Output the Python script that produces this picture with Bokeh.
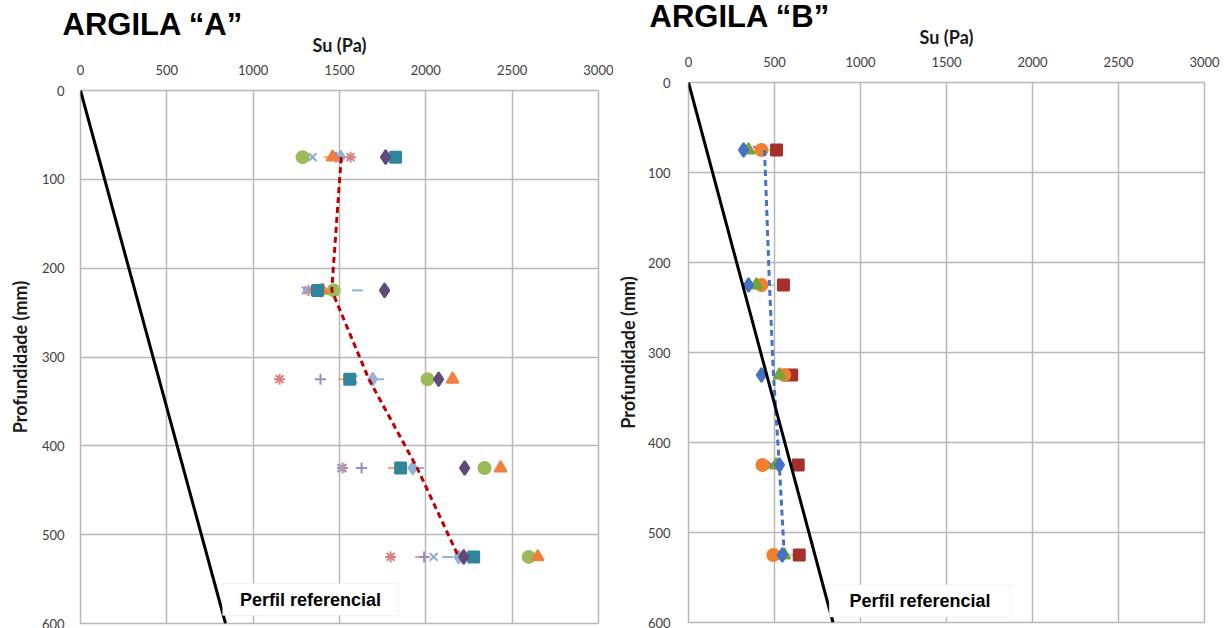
from bokeh.plotting import figure
from bokeh.layouts import row, column
from bokeh.models import Range1d, Label, BoxAnnotation, FixedTicker
from bokeh.embed import file_html
from bokeh.resources import INLINE

# ---------------- data ----------------
depths = [75, 225, 325, 425, 525]
x_ticks = [0, 500, 1000, 1500, 2000, 2500, 3000]
y_ticks = [0, 100, 200, 300, 400, 500, 600]
ref_depth = [0, 600]
ref_su = [0, 840]

# ARGILA "A"  (Su in Pa at each depth)
a_diamond_dark = [1767, 1761, 2074, 2225, 2219]
a_square = [1825, 1373, 1559, 1854, 2277]
a_triangle = [1460, 1402, 2155, 2433, 2648]
a_x = [1344, 1304, 1580, 1510, 2045]
a_asterisk = [1564, 1320, 1153, 1518, 1796]
a_circle = [1286, 1466, 2010, 2340, 2596]
a_plus = [1480, 1340, 1390, 1628, 1990]
a_dash_orange = [1440, 1437, 1524, 1813, 1970]
a_dash_blue = [1500, 1605, 1727, 1958, 2126]
a_diamond_light = [1506, 1390, 1692, 1924, 2190]
a_mean = [1510, 1455, 1670, 1950, 2190]

# ARGILA "B"
b_diamond = [320, 349, 424, 529, 545]
b_square = [512, 552, 600, 638, 644]
b_triangle = [349, 395, 529, 510, 557]
b_x = [400, 410, 540, 481, 530]
b_asterisk = [430, 430, 590, 520, 540]
b_circle = [424, 424, 557, 430, 493]
b_dash = [471, 465, 580, 630, 620]
b_mean = [442, 471, 494, 528, 557]

GRID = "#b8b8b8"
TICK_FONT = "Lato"


def make_fig(title, width, left, right, top, bottom, tick_standoff_y, label_standoff_y,
             title_offset, title_standoff):
    p = figure(width=width, height=628, x_range=Range1d(0, 3000), y_range=Range1d(600, 0),
               x_axis_location="above", output_backend="svg", toolbar_location=None,
               title=title, title_location="above",
               min_border_left=left, min_border_right=right,
               min_border_top=top, min_border_bottom=bottom)
    p.title.align = "left"
    p.title.offset = title_offset
    p.title.text_font = "Liberation Sans"
    p.title.text_font_style = "bold"
    p.title.text_font_size = "31px"
    p.title.text_color = "black"
    try:
        p.title.standoff = title_standoff
    except Exception:
        p.title.standoff = 0
    p.background_fill_color = "white"
    p.border_fill_color = "white"
    p.outline_line_color = GRID
    p.outline_line_width = 1.5
    p.xaxis.ticker = FixedTicker(ticks=x_ticks)
    p.yaxis.ticker = FixedTicker(ticks=y_ticks)
    p.xgrid.ticker = FixedTicker(ticks=x_ticks)
    p.ygrid.ticker = FixedTicker(ticks=y_ticks)
    p.grid.grid_line_color = GRID
    p.grid.grid_line_width = 1.5
    for ax in (p.xaxis, p.yaxis):
        ax.axis_line_color = None
        ax.major_tick_line_color = None
        ax.minor_tick_line_color = None
        ax.major_label_text_font = TICK_FONT
        ax.major_label_text_font_size = "13px"
        ax.major_label_text_color = "#404040"
        ax.axis_label_text_font = TICK_FONT
        ax.axis_label_text_font_style = "bold"
        ax.axis_label_text_font_size = "18px"
        ax.axis_label_text_color = "#1a1a1a"
    p.xaxis.axis_label = "Su (Pa)"
    p.yaxis.axis_label = "Profundidade (mm)"
    p.xaxis.major_label_standoff = 10
    p.xaxis.axis_label_standoff = 6
    p.yaxis.major_label_standoff = tick_standoff_y
    p.yaxis.axis_label_standoff = label_standoff_y
    return p


def add_box(p, l, r, t, b):
    p.add_layout(BoxAnnotation(left=l, right=r, top=t, bottom=b, fill_color="white",
                               fill_alpha=1.0, line_color="#d9d9d9", line_width=1))
    p.add_layout(Label(x=(l + r) / 2, y=(t + b) / 2, text="Perfil referencial",
                       text_align="center", text_baseline="middle",
                       text_font="Liberation Sans", text_font_style="bold",
                       text_font_size="18px", text_color="black"))


# ---------------- ARGILA A ----------------
pa = make_fig("ARGILA “A”", 613, 80, 15, 90, 5, 10, 8, -18, -22)
series_a = [
    (a_diamond_light, "diamond", "#95B3D7", 13),
    (a_dash_blue, "dash", "#8DB4E2", 11),
    (a_dash_orange, "dash", "#F9A66B", 11),
    (a_plus, "cross", "#9A8CC0", 11),
    (a_asterisk, "asterisk", "#D9827F", 11),
    (a_x, "x", "#8EA9DB", 11),
    (a_circle, "circle", "#9BBB59", 12),
    (a_triangle, "triangle", "#F0803C", 12),
    (a_square, "square", "#31859C", 11),
    (a_diamond_dark, "diamond", "#604A7B", 14),
]
for vals, mk, col, sz in series_a:
    pa.scatter(vals, depths, marker=mk, size=sz, fill_color=col, line_color=col, line_width=2)
pa.line(a_mean, depths, line_color="#C00000", line_width=3, line_dash="6 4")
pa.line(ref_su, ref_depth, line_color="black", line_width=3)
add_box(pa, 823, 1842, 555, 591)

# ---------------- ARGILA B ----------------
pb = make_fig("ARGILA “B”", 619, 74, 28, 82, 6, 12, 6, -39, -23)
series_b = [
    (b_asterisk, "asterisk", "#F79646", 11),
    (b_x, "x", "#8064A2", 11),
    (b_dash, "dash", "#C3D69B", 11),
    (b_square, "square", "#A5302C", 11),
    (b_circle, "circle", "#F07F2E", 12),
    (b_triangle, "triangle", "#77A33A", 12),
    (b_diamond, "diamond", "#4472C4", 14),
]
for vals, mk, col, sz in series_b:
    pb.scatter(vals, depths, marker=mk, size=sz, fill_color=col, line_color=col, line_width=2)
pb.line(b_mean, depths, line_color="#4472C4", line_width=3, line_dash="6 4")
pb.line(ref_su, ref_depth, line_color="black", line_width=3)
add_box(pb, 818, 1874, 558, 594)

layout = row(pa, column(pb))
open("out.html", "w").write(file_html(layout, INLINE))
